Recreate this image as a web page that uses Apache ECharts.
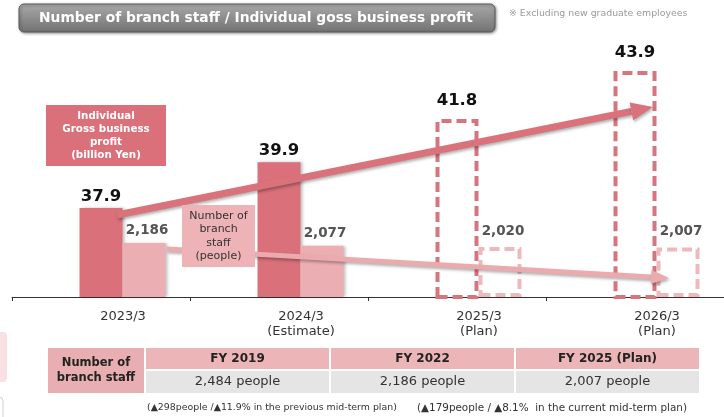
<!DOCTYPE html>
<html>
<head>
<meta charset="utf-8">
<script src="https://cdn.jsdelivr.net/npm/echarts@6/dist/echarts.min.js"></script>
<style>
  html, body { margin: 0; padding: 0; background: #fff; }
  #main { width: 724px; height: 417px; }
</style>
</head>
<body>
<div id="main"></div>
<script>
// categories and values
const categories = ['2023/3', '2024/3\n(Estimate)', '2025/3\n(Plan)', '2026/3\n(Plan)'];
const profitValues = [37.9, 39.9, 41.8, 43.9];   // billion Yen
const staffValues = [2186, 2077, 2020, 2007];    // people
const planFrom = 2;                              // plan years are drawn dashed

// table under the chart
const tableHeads = ['FY 2019', 'FY 2022', 'FY 2025 (Plan)'];
const tableValues = ['2,484 people', '2,186 people', '2,007 people'];
const footNotes = [
  '(\u25B2298people /\u25B211.9% in the previous mid-term plan)',
  '(\u25B2179people / \u25B28.1%  in the current mid-term plan)'
];

const FONT = '"DejaVu Sans", Verdana, sans-serif';
const profitColor = '#D9707A';
const staffColor = '#EBAFB3';

const chart = echarts.init(document.getElementById('main'));

// solid bars for actual/estimate, dashed empty boxes for plan
function barItems(values, color, dashColor, solidDist, dashDist) {
  return values.map(function (v, i) {
    if (i < planFrom) {
      return { value: v, label: { distance: solidDist } };
    }
    return {
      value: v,
      itemStyle: {
        color: 'rgba(255,255,255,0)',
        borderColor: dashColor,
        borderWidth: 4,
        borderType: [10, 5],
        shadowColor: 'rgba(0,0,0,0)'
      },
      label: { distance: dashDist }
    };
  });
}

// arrow = thick line + triangle head
function arrow(x1, y1, x2, y2, w, hl, hw, color) {
  const a = Math.atan2(y2 - y1, x2 - x1);
  const c = Math.cos(a), s = Math.sin(a);
  const bx = x2 - hl * c, by = y2 - hl * s;
  const shadow = { shadowBlur: 3, shadowColor: 'rgba(0,0,0,0.3)', shadowOffsetX: 1, shadowOffsetY: 2 };
  return [
    {
      type: 'line', z: 20,
      shape: { x1: x1, y1: y1, x2: bx, y2: by },
      style: Object.assign({ stroke: color, lineWidth: w }, shadow)
    },
    {
      type: 'polygon', z: 20,
      shape: { points: [[x2, y2], [bx + hw / 2 * s, by - hw / 2 * c], [bx - hw / 2 * s, by + hw / 2 * c]] },
      style: Object.assign({ fill: color }, shadow)
    }
  ];
}

function box(x, y, w, h, fill, text, textStyle) {
  return [
    { type: 'rect', z: 20, shape: { x: x, y: y, width: w, height: h }, style: { fill: fill } },
    {
      type: 'text', z: 21, x: x + w / 2, y: y + h / 2,
      style: Object.assign({ text: text, align: 'center', verticalAlign: 'middle', fontFamily: FONT }, textStyle)
    }
  ];
}

let graphics = [];

// title bar
graphics.push({
  type: 'rect', z: 20,
  shape: { x: 19, y: 4, width: 476, height: 28, r: 5 },
  style: {
    fill: new echarts.graphic.LinearGradient(0, 0, 0, 1, [
      { offset: 0, color: '#a9a9a9' },
      { offset: 1, color: '#727272' }
    ]),
    stroke: '#5c5c5c', lineWidth: 1,
    shadowBlur: 3, shadowColor: 'rgba(0,0,0,0.4)', shadowOffsetX: 1, shadowOffsetY: 1
  }
});
graphics.push({
  type: 'text', z: 21, x: 256, y: 18,
  style: {
    text: 'Number of branch staff / Individual goss business profit',
    fill: '#fff', fontSize: 13.8, fontWeight: 'bold', fontFamily: FONT,
    align: 'center', verticalAlign: 'middle'
  }
});
graphics.push({
  type: 'text', z: 21, x: 509, y: 14,
  style: {
    text: '\u203B Excluding new graduate employees', fill: '#9a9a9a',
    fontSize: 9.4, fontFamily: FONT, align: 'left', verticalAlign: 'middle'
  }
});

// arrows
graphics = graphics.concat(arrow(117, 215, 653, 107, 7, 22, 18, '#D9727A'));
graphics = graphics.concat(arrow(167, 249, 669, 278, 5, 18, 14, '#EBAAAE'));

// legend boxes
graphics = graphics.concat(box(46, 105, 120, 61, profitColor,
  'Individual\nGross business\nprofit\n(billion Yen)',
  { fill: '#fff', fontSize: 10.3, fontWeight: 'bold', lineHeight: 13 }));
graphics = graphics.concat(box(182, 205, 73, 62, '#EDB3B6',
  'Number of\nbranch\nstaff\n(people)',
  { fill: '#333', fontSize: 11, lineHeight: 13.5 }));

// table
graphics = graphics.concat(box(48, 348, 96, 45, '#E8AEB2', 'Number of\nbranch staff',
  { fill: '#222', fontSize: 11.5, fontWeight: 'bold', lineHeight: 15 }));
tableHeads.forEach(function (h, i) {
  graphics = graphics.concat(box(146 + i * 185, 348, 183, 21, '#ECB5B8', h,
    { fill: '#222', fontSize: 12, fontWeight: 'bold' }));
  graphics = graphics.concat(box(146 + i * 185, 371, 183, 22, '#E5E5E5', tableValues[i],
    { fill: '#333', fontSize: 13 }));
});
footNotes.forEach(function (t, i) {
  graphics.push({
    type: 'text', z: 21, x: [147, 417][i], y: 408,
    style: { text: t, fill: '#333', fontSize: [9.4, 10.4][i], fontFamily: FONT, align: 'left', verticalAlign: 'middle' }
  });
});

// slide leftovers at the left edge
graphics.push({ type: 'rect', z: 1, shape: { x: -8, y: 332, width: 15, height: 50, r: 4 }, style: { fill: '#F7E1E2' } });
graphics.push({ type: 'rect', z: 1, shape: { x: -8, y: 397, width: 11, height: 30, r: 4 }, style: { fill: '#fff', stroke: '#d0d0d0' } });

const option = {
  animation: false,
  backgroundColor: '#fff',
  grid: { left: 12, right: 0, top: 30, bottom: 120, containLabel: false },
  xAxis: {
    type: 'category',
    data: categories,
    axisLine: { lineStyle: { color: '#333', width: 1 } },
    axisTick: { show: true, length: 4, lineStyle: { color: '#333' } },
    axisLabel: {
      color: '#333', fontSize: 13, lineHeight: 15, margin: 12,
      fontFamily: FONT, padding: [0, 0, 0, 44]
    }
  },
  yAxis: [
    { type: 'value', min: 34, max: 45.7, show: false },
    { type: 'value', min: 0, max: 10800, show: false }
  ],
  series: [
    {
      // empty slot so the profit bar sits on the category centre
      name: 'spacer', type: 'bar', barWidth: 43, barGap: '0%',
      data: ['-', '-', '-', '-']
    },
    {
      name: 'Individual Gross business profit', type: 'bar', yAxisIndex: 0,
      barWidth: 43, barGap: '0%',
      itemStyle: { color: profitColor, shadowColor: 'rgba(0,0,0,0.25)', shadowBlur: 3, shadowOffsetX: 2 },
      label: {
        show: true, position: 'top', color: '#111', fontSize: 16.5,
        fontWeight: 'bold', fontFamily: FONT
      },
      data: barItems(profitValues, profitColor, '#D6757D', 3, 10)
    },
    {
      name: 'Number of branch staff', type: 'bar', yAxisIndex: 1,
      barWidth: 43, barGap: '0%',
      itemStyle: { color: staffColor, shadowColor: 'rgba(0,0,0,0.25)', shadowBlur: 3, shadowOffsetX: 2 },
      label: {
        show: true, position: 'top', color: '#555', fontSize: 13.5,
        fontWeight: 'bold', fontFamily: FONT, offset: [3, 0],
        formatter: function (p) { return p.value.toLocaleString('en-US'); }
      },
      data: barItems(staffValues, staffColor, '#EDB9BC', 5, 9)
    }
  ],
  graphic: { elements: graphics }
};

chart.setOption(option);
</script>
</body>
</html>
